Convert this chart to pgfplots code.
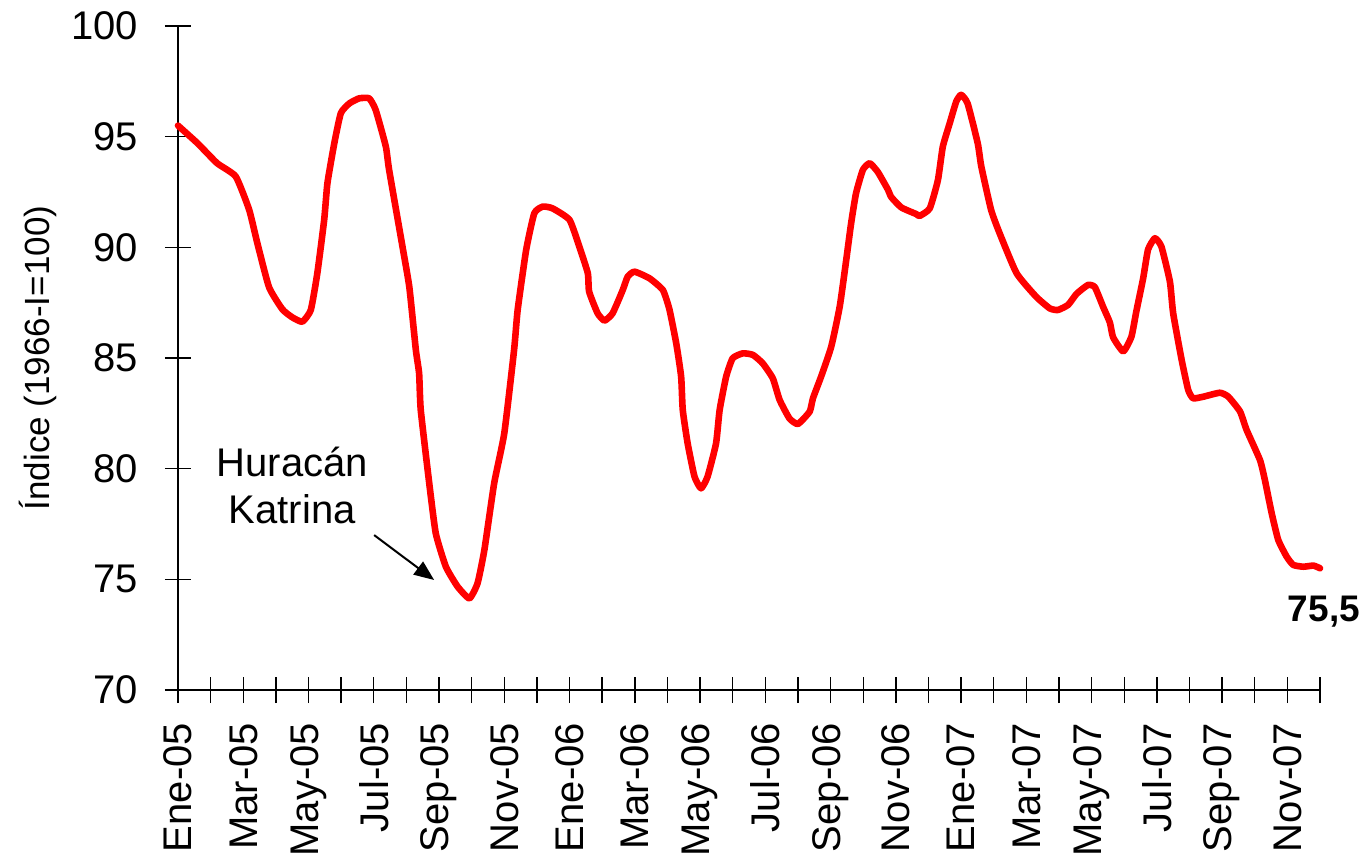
\documentclass[border=0pt]{standalone}
\usepackage{fontspec}
\setmainfont{Liberation Sans}
\usepackage{pgfplots}
\pgfplotsset{compat=1.18}
\usetikzlibrary{calc,arrows.meta}

\pgfplotstableread{
m v
0.00 95.5
0.60 94.7
1.20 93.8
1.77 93.2
2.18 91.7
2.43 90.2
2.79 88.2
3.20 87.2
3.50 86.84
3.81 86.64
4.07 87.17
4.27 88.83
4.48 91.24
4.58 92.9
4.79 94.7
4.99 96.06
5.25 96.5
5.55 96.73
5.86 96.73
6.06 96.2
6.37 94.55
6.47 93.5
6.88 90.03
7.09 88.2
7.29 85.36
7.39 84.3
7.44 82.65
7.70 79.34
7.90 77.08
8.21 75.57
8.57 74.67
8.93 74.14
9.18 74.82
9.39 76.33
9.69 79.34
10.00 81.6
10.30 85.36
10.41 87.17
10.67 89.88
10.92 91.54
11.18 91.84
11.48 91.76
12.00 91.24
12.30 90.03
12.56 88.83
12.60 88.0
12.86 87.02
13.07 86.69
13.32 87.02
13.63 88.07
13.78 88.67
13.99 88.9
14.45 88.6
14.86 88.07
15.06 87.2
15.27 85.66
15.42 84.16
15.47 82.65
15.62 81.14
15.83 79.64
16.03 79.11
16.23 79.64
16.49 81.14
16.60 82.65
16.80 84.16
17.00 84.99
17.31 85.21
17.62 85.14
17.92 84.76
18.23 84.08
18.44 83.1
18.74 82.27
19.00 82.02
19.36 82.58
19.46 83.18
19.71 84.16
20.02 85.51
20.28 87.32
20.48 89.43
20.63 91.09
20.78 92.44
20.99 93.5
21.20 93.8
21.45 93.4
21.76 92.6
21.86 92.27
22.17 91.8
22.63 91.5
22.73 91.42
23.04 91.76
23.29 93.04
23.44 94.55
23.65 95.6
23.85 96.58
24.00 96.89
24.20 96.5
24.51 94.7
24.62 93.65
24.92 91.69
25.18 90.64
25.70 88.83
26.30 87.77
26.72 87.24
26.97 87.17
27.28 87.4
27.54 87.9
27.89 88.3
28.10 88.2
28.35 87.32
28.56 86.6
28.66 85.93
28.97 85.3
29.22 85.96
29.37 87.1
29.58 88.6
29.73 89.9
29.94 90.41
30.14 90.03
30.40 88.45
30.50 87.02
30.76 84.91
30.96 83.56
31.11 83.18
31.42 83.25
31.93 83.43
32.19 83.25
32.55 82.58
32.75 81.75
33.16 80.39
33.31 79.49
33.52 77.98
33.72 76.78
33.98 76.02
34.18 75.65
34.49 75.57
34.80 75.62
35.00 75.5
}\datatable

\begin{document}
\begin{tikzpicture}
\begin{axis}[
  scale only axis, width=571pt, height=332pt,
  xmin=0, xmax=35, ymin=70, ymax=100,
  axis x line*=bottom, axis y line*=left,
  xtick={0,...,35},
  xticklabels={Ene-05,,Mar-05,,May-05,,Jul-05,,Sep-05,,Nov-05,,Ene-06,,Mar-06,,May-06,,Jul-06,,Sep-06,,Nov-06,,Ene-07,,Mar-07,,May-07,,Jul-07,,Sep-07,,Nov-07,},
  ytick={70,75,...,100},
  tick align=center, major tick length=13pt,
  tick style={black, line width=0.7pt},
  axis line style={black, line width=0.7pt},
  xticklabel shift=6.5pt,
  yticklabel shift=10pt,
  x tick label style={rotate=90, anchor=east, font=\fontsize{20}{24}\selectfont},
  y tick label style={font=\fontsize{20}{24}\selectfont},
  /pgf/number format/assume math mode=true,
  clip=false,
]
\addplot[red, line width=3.3pt, line join=round, line cap=round, smooth, tension=0.3] table[x=m, y=v] {\datatable};
\coordinate (sw) at (rel axis cs:0,0);
\coordinate (ne) at (rel axis cs:1,1);
\node[rotate=90, font=\fontsize{17.5}{21}\selectfont] at ([xshift=-70pt]rel axis cs:0,0.5) {Índice (1966-I=100)};
\node[align=center, font=\fontsize{20}{23.5}\selectfont] at (axis cs:3.5,79.26) {Huracán\\Katrina};
\draw[-{Triangle[length=10pt,width=8pt]}, line width=1pt] (axis cs:6.01,77.0) -- (axis cs:7.85,74.97);
\node[font=\bfseries\fontsize{18.5}{22}\selectfont] at (axis cs:35.12,73.52) {75,5};
\end{axis}
\pgfresetboundingbox
\path[use as bounding box] ($(sw)+(-89pt,-85.5pt)$) rectangle ($(ne)+(22pt,13pt)$);
\end{tikzpicture}
\end{document}
